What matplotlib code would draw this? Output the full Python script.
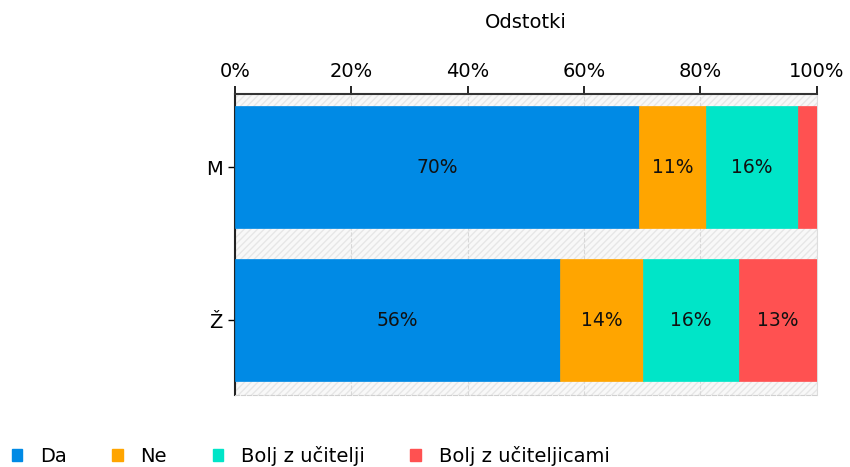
import matplotlib
matplotlib.use('Agg')
import matplotlib.pyplot as plt
from matplotlib.patches import Patch, Rectangle

# data (percent)
groups = ['M', 'Ž']
series = ['Da', 'Ne', 'Bolj z učitelji', 'Bolj z učiteljicami']
da = [69.5, 55.9]
ne = [11.4, 14.3]
bolj_ucitelji = [15.8, 16.4]
bolj_uciteljicami = [3.3, 13.4]
colors = ['#008ae5', '#ffa500', '#00e5c8', '#ff5151']
ticks = [0, 20, 40, 60, 80, 100]

plt.rcParams['font.family'] = ['DejaVu Sans']
fig = plt.figure(figsize=(8.5, 4.67), dpi=100)
ax = fig.add_axes([0.2765, 0.154, 0.6845, 0.645])

# hatched plot background
ax.add_patch(Rectangle((0, 0), 1, 1, transform=ax.transAxes, facecolor='#f8f8f8',
                       edgecolor='#e6e6e6', hatch='/////', linewidth=0, zorder=0))

left = [0, 0]
for name, vals, col in zip(series, [da, ne, bolj_ucitelji, bolj_uciteljicami], colors):
    ax.barh(range(len(groups)), vals, left=left, height=0.8, color=col,
            edgecolor=col, linewidth=0.5, zorder=3, label=name)
    for i, v in enumerate(vals):
        if v >= 5:
            ax.text(left[i] + v / 2, i, f'{round(v)}%', ha='center', va='center',
                    fontsize=13.5, color='#111111', zorder=4)
    left = [a + b for a, b in zip(left, vals)]

ax.set_xlim(0, 100)
ax.set_ylim(1.49, -0.48)
ax.set_yticks(range(len(groups)))
ax.set_yticklabels(groups, fontsize=14)
ax.set_xticks(ticks)
ax.set_xticklabels([f'{t}%' for t in ticks], fontsize=14)
ax.xaxis.tick_top()
ax.xaxis.set_label_position('top')
ax.set_xlabel('Odstotki', fontsize=14, labelpad=25)
ax.tick_params(axis='x', length=6, width=1.2, pad=3)
ax.tick_params(axis='y', length=5, width=1, pad=4)
ax.grid(axis='x', color='#d8d8d8', linestyle='--', linewidth=0.8, zorder=1)

ax.spines['top'].set_linewidth(1.5)
ax.spines['top'].set_color('#333333')
ax.spines['left'].set_linewidth(1.5)
ax.spines['left'].set_color('#222222')
ax.spines['right'].set_color('#dddddd')
ax.spines['bottom'].set_color('#d0d0d0')
ax.spines['bottom'].set_linestyle('--')
for s in ax.spines.values():
    s.set_zorder(2)

handles = [Patch(facecolor=c, edgecolor=c) for c in colors]
fig.legend(handles, series, loc='lower left', bbox_to_anchor=(-0.007, -0.035), ncol=4,
           frameon=False, fontsize=14, handlelength=0.55, handleheight=0.55,
           handletextpad=0.9, columnspacing=2.35)

fig.savefig('out.png', dpi=100)
